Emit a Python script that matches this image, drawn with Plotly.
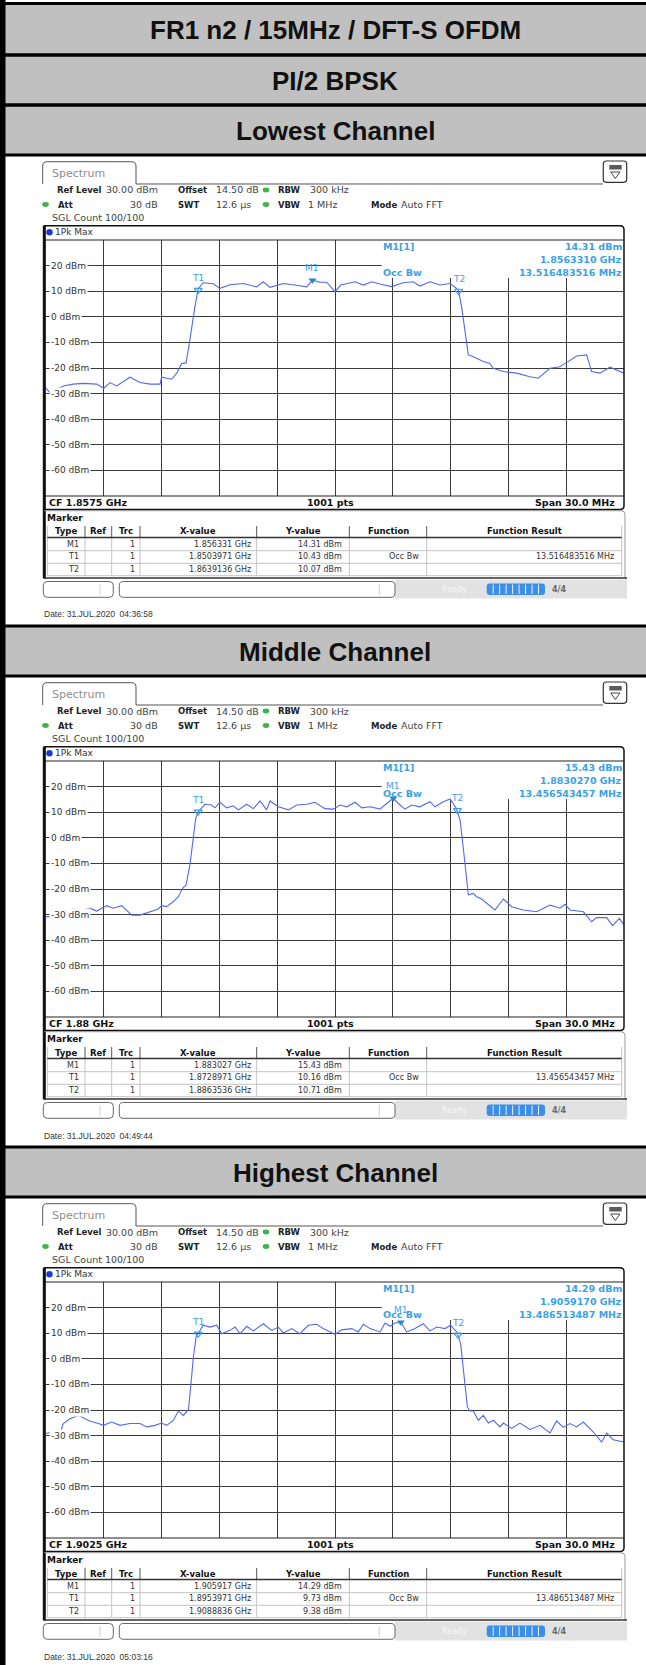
import plotly.graph_objects as go

W, H = 646, 1665
DY = 521  # vertical pixel offset between the three analyser screens

# ---------------- data ----------------
header_titles = ["FR1 n2 / 15MHz / DFT-S OFDM", "PI/2 BPSK"]
channel_titles = ["Lowest Channel", "Middle Channel", "Highest Channel"]
center_freq_ghz = ["1.8575", "1.88", "1.9025"]
span_mhz = 30.0
level_ticks = [20, 10, 0, -10, -20, -30, -40, -50, -60]
level_range = [-70, 30]
dates = ["31.JUL.2020  04:36:58", "31.JUL.2020  04:49:44", "31.JUL.2020  05:03:16"]

# trace points: frequency offset from start of span (MHz), level (dBm)
low_freq = [0, 0.2, 0.9, 1.42, 1.94, 2.63, 3.0, 3.32, 3.67, 4.36, 4.88, 5.4, 5.92, 6.0, 6.52, 6.78, 7.04, 7.27,
            7.44, 7.61, 7.73, 7.9, 8.16, 8.68, 9.03, 9.55, 10.24, 10.93, 11.28, 11.62, 12.32, 13.0, 13.53, 13.83,
            14.22, 14.57, 15.0, 15.3, 16.04, 16.47, 16.9, 17.33, 17.94, 18.54, 19.06, 19.41, 19.93, 20.45, 20.97,
            21.4, 21.57, 21.74, 21.92, 22.09, 22.35, 22.7, 23.04, 23.21, 23.73, 24.43, 25.12, 25.55, 26.16, 26.67,
            27.1, 27.54, 28.06, 28.32, 28.75, 29.27, 30.0]
low_level = [-27.9, -29.6, -27.0, -26.3, -26.0, -26.3, -27.9, -25.7, -27.0, -23.6, -25.7, -26.3, -26.3, -23.6,
             -24.4, -22.1, -18.2, -18.0, -10.4, -1.3, 4.0, 11.0, 13.3, 12.9, 11.1, 12.5, 13.0, 11.7, 13.7, 11.5,
             13.0, 12.3, 11.7, 14.31, 13.5, 13.5, 9.8, 12.4, 13.7, 12.4, 13.7, 12.8, 11.8, 13.3, 13.7, 12.0, 13.7,
             12.4, 13.0, 10.5, 4.0, -5.2, -14.9, -15.3, -16.2, -17.5, -18.2, -20.1, -21.4, -22.0, -23.4, -24.0,
             -20.1, -19.5, -17.5, -15.3, -14.9, -21.4, -22.0, -19.7, -22.0]

mid_freq = [0, 0.55, 0.9, 1.16, 1.42, 1.76, 2.28, 2.63, 3.15, 3.49, 3.93, 4.19, 4.45, 4.88, 5.4, 5.83, 6.0, 6.26,
            6.61, 6.87, 7.09, 7.27, 7.47, 7.65, 7.77, 7.9, 8.25, 8.6, 8.77, 9.03, 9.38, 9.72, 9.98, 10.42, 10.76,
            11.11, 11.45, 11.63, 12.06, 12.58, 13.01, 13.53, 13.96, 14.48, 14.91, 15.26, 15.61, 16.04, 16.39,
            16.82, 17.34, 17.68, 18.03, 18.29, 18.63, 18.98, 19.41, 19.93, 20.19, 20.62, 20.97, 21.28, 21.49,
            21.66, 21.84, 21.92, 22.18, 22.35, 22.61, 22.87, 23.3, 23.74, 24.17, 24.77, 25.47, 26.16, 26.68,
            26.94, 27.2, 27.89, 28.32, 28.58, 29.1, 29.41, 29.76, 30.0]
mid_level = [-30.8, -31.0, -28.9, -30.4, -27.8, -28.6, -27.5, -28.6, -26.5, -27.5, -26.5, -28.2, -30.2, -30.2,
             -28.9, -27.8, -26.5, -26.9, -24.9, -23.0, -19.7, -18.4, -10.6, -0.2, 7.6, 10.16, 13.1, 12.8, 11.7,
             13.9, 11.7, 12.5, 10.9, 13.1, 11.4, 14.4, 10.9, 14.4, 12.1, 10.9, 12.8, 13.1, 13.9, 11.4, 11.2, 12.8,
             12.1, 13.9, 11.7, 12.1, 11.2, 13.4, 15.43, 13.4, 11.2, 12.8, 12.1, 14.1, 12.1, 14.1, 15.2, 11.7, 7.0,
             -4.1, -17.1, -22.3, -21.7, -23.0, -23.9, -25.6, -28.2, -23.9, -26.9, -28.2, -28.9, -26.3, -27.5,
             -26.0, -28.2, -28.9, -32.8, -31.2, -31.2, -34.3, -31.5, -34.0]

high_freq = [0, 0.47, 0.73, 0.9, 1.25, 1.68, 2.02, 2.28, 2.72, 2.98, 3.41, 3.84, 4.36, 4.88, 5.23, 5.66, 6.0,
             6.26, 6.61, 6.87, 7.13, 7.39, 7.51, 7.65, 7.79, 7.9, 8.16, 8.51, 8.86, 9.12, 9.55, 9.81, 10.07, 10.42,
             10.76, 11.28, 11.71, 12.06, 12.32, 12.75, 13.18, 13.61, 14.05, 14.39, 15.0, 15.35, 15.87, 16.21,
             16.47, 16.82, 17.34, 17.6, 17.86, 18.11, 18.42, 18.72, 19.15, 19.58, 19.93, 20.28, 20.71, 21.0,
             21.32, 21.52, 21.66, 21.87, 22.0, 22.18, 22.44, 22.7, 22.96, 23.22, 23.56, 23.74, 24.17, 24.6,
             25.12, 25.64, 26.16, 26.5, 26.85, 27.2, 27.54, 27.89, 28.41, 28.84, 29.1, 29.44, 30.0]
high_level = [-29.2, -28.2, -29.0, -25.3, -23.4, -22.1, -23.4, -24.3, -25.3, -26.0, -24.7, -26.0, -25.3, -25.3,
              -26.6, -26.0, -25.1, -26.0, -24.1, -20.4, -22.1, -19.9, -11.0, 0.7, 8.5, 9.73, 13.1, 12.4, 13.1,
              9.8, 11.1, 12.4, 9.8, 12.7, 10.9, 13.7, 11.1, 12.4, 10.1, 11.8, 9.8, 13.1, 13.5, 11.8, 9.5, 11.3,
              11.8, 10.5, 13.5, 11.8, 10.5, 14.0, 12.7, 14.0, 14.29, 10.5, 11.8, 13.7, 10.9, 12.4, 11.8, 13.1,
              10.5, 5.9, -4.5, -18.8, -20.4, -20.4, -24.0, -22.1, -25.1, -24.0, -26.6, -25.1, -27.2, -25.1,
              -27.6, -26.0, -29.0, -24.3, -26.8, -25.3, -26.6, -24.7, -28.6, -32.5, -29.0, -31.6, -32.5]

trace_freqs = [low_freq, mid_freq, high_freq]
trace_levels = [low_level, mid_level, high_level]

# markers
m1_x_ghz = ["1.856331", "1.883027", "1.905917"]
m1_y_dbm = [14.31, 15.43, 14.29]
t1_x_ghz = ["1.8503971", "1.8728971", "1.8953971"]
t1_y_dbm = [10.43, 10.16, 9.73]
t2_x_ghz = ["1.8639136", "1.8863536", "1.9088836"]
t2_y_dbm = [10.07, 10.71, 9.38]
m1_readout_ghz = ["1.8563310", "1.8830270", "1.9059170"]
occ_bw_mhz = ["13.516483516", "13.456543457", "13.486513487"]

# ---------------- styling ----------------
UI = "DejaVu Sans"
HDR = "Liberation Sans"
GRID = "#3a3a3a"
TRACE = "#5468f0"
MCOL = "#3aa2e4"
GREEN = "#3fb24a"

shapes, annos = [], []


def X(px):
    return px / W


def Y(py):
    return 1 - py / H


def P(x, y):
    return f"{X(x):.5f},{Y(y):.5f}"


def add_rect(x0, y0, x1, y1, fill=None, lc=None, lw=0, layer="above"):
    shapes.append(dict(type="rect", xref="paper", yref="paper", x0=X(x0), x1=X(x1), y0=Y(y1), y1=Y(y0),
                       fillcolor=fill or "rgba(0,0,0,0)",
                       line=dict(color=lc or "rgba(0,0,0,0)", width=lw), layer=layer))


def add_line(x0, y0, x1, y1, color, width=1, layer="above"):
    shapes.append(dict(type="line", xref="paper", yref="paper", x0=X(x0), y0=Y(y0), x1=X(x1), y1=Y(y1),
                       line=dict(color=color, width=width), layer=layer))


def add_path(d, fill=None, lc=None, lw=1, layer="above"):
    shapes.append(dict(type="path", xref="paper", yref="paper", path=d, fillcolor=fill or "rgba(0,0,0,0)",
                       line=dict(color=lc or "rgba(0,0,0,0)", width=lw), layer=layer))


def rrect(x0, y0, x1, y1, r):
    return (f"M {P(x0 + r, y0)} L {P(x1 - r, y0)} Q {P(x1, y0)} {P(x1, y0 + r)} L {P(x1, y1 - r)} "
            f"Q {P(x1, y1)} {P(x1 - r, y1)} L {P(x0 + r, y1)} Q {P(x0, y1)} {P(x0, y1 - r)} "
            f"L {P(x0, y0 + r)} Q {P(x0, y0)} {P(x0 + r, y0)} Z")


def add_circle(cx, cy, rx, ry, fill):
    shapes.append(dict(type="circle", xref="paper", yref="paper", x0=X(cx - rx), x1=X(cx + rx),
                       y0=Y(cy + ry), y1=Y(cy - ry), fillcolor=fill, line=dict(width=0)))


def add_text(x, y, s, size=9, color="#1a1a1a", family=UI, weight="normal", anchor="left", bg=None, pad=0):
    a = dict(xref="paper", yref="paper", x=X(x), y=Y(y), text=s, showarrow=False, xanchor=anchor,
             yanchor="middle", font=dict(family=family, size=size, color=color, weight=weight), borderpad=pad)
    if bg:
        a["bgcolor"] = bg
    annos.append(a)


# ---------------- header rows ----------------
rows = [(3.5, 55, header_titles[0]), (55, 105, header_titles[1])]
rows += [(105 + k * DY, 155 + k * DY, channel_titles[k]) for k in range(3)]
for (y0, y1, t) in rows:
    add_rect(5, y0, W, y1, fill="#c0c0c0", layer="below")
    add_text(335, (y0 + y1) / 2 + 1, t, size=26, color="#111", family=HDR, weight="bold", anchor="center")
for (y0, y1, t) in rows:
    add_line(0, y0, W, y0, "#000", 3)
    add_line(0, y1, W, y1, "#000", 3)
add_rect(0, 0, 5.5, H, fill="#000", layer="above")

fig = go.Figure()
layout_axes = {}

LB, LV = 8.5, 9.5  # bold label / value sizes of the analyser status lines

for k in range(3):
    oy = k * DY
    sfx = "" if k == 0 else str(k + 1)
    cf = float(center_freq_ghz[k]) * 1000.0
    start = cf - span_mhz / 2

    # ---- Spectrum tab ----
    add_path(f"M {P(42.7, 184 + oy)} L {P(42.7, 166 + oy)} Q {P(42.7, 161.7 + oy)} {P(47, 161.7 + oy)} "
             f"L {P(131.5, 161.7 + oy)} Q {P(136, 161.7 + oy)} {P(136, 166 + oy)} L {P(136, 184 + oy)} "
             f"L {P(603, 184 + oy)}", lc="#555", lw=1)
    add_text(50.5, 173.3 + oy, "Spectrum", size=11, color="#8e8e8e")
    # icon at top right
    add_path(rrect(603.3, 161 + oy, 626.7, 182.3 + oy, 3), fill="#fff", lc="#333", lw=1.2)
    add_rect(609.3, 165 + oy, 621.7, 169.5 + oy, fill="#5a5a5a")
    add_path(f"M {P(610.7, 172 + oy)} L {P(620, 172 + oy)} L {P(615.3, 178.5 + oy)} Z", lc="#444", lw=1)

    # ---- info lines ----
    y1 = 190 + oy
    add_text(56, y1, "Ref Level", LB, "#222", weight="bold")
    add_text(159.3, y1, "30.00 dBm", LV, "#444", anchor="right")
    add_text(176.7, y1, "Offset", LB, "#222", weight="bold")
    add_text(215, y1, "14.50 dB", LV, "#444")
    add_circle(266, y1, 3.3, 2.4, GREEN)
    add_text(276.7, y1, "RBW", LB, "#222", weight="bold")
    add_text(309.3, y1, "300 kHz", LV, "#444")
    y2 = 204.5 + oy
    add_circle(45.5, y2, 3.3, 2.4, GREEN)
    add_text(57.3, y2, "Att", LB, "#222", weight="bold")
    add_text(159.3, y2, "30 dB", LV, "#444", anchor="right")
    add_text(176.7, y2, "SWT", LB, "#222", weight="bold")
    add_text(215, y2, "12.6 µs", LV, "#444")
    add_circle(266, y2, 3.3, 2.4, GREEN)
    add_text(276.7, y2, "VBW", LB, "#222", weight="bold")
    add_text(338, y2, "1 MHz", LV, "#444", anchor="right")
    add_text(370, y2, "Mode", LB, "#222", weight="bold")
    add_text(399.5, y2, "Auto FFT", LV, "#444")
    add_text(50.7, 217.7 + oy, "SGL Count 100/100", LV, "#444")

    # ---- trace window frame ----
    add_path(f"M {P(44.5, 509.5 + oy)} L {P(44.5, 225.7 + oy)} L {P(620, 225.7 + oy)} "
             f"Q {P(624, 225.7 + oy)} {P(624, 229.7 + oy)} L {P(624, 505.5 + oy)} "
             f"Q {P(624, 509.5 + oy)} {P(620, 509.5 + oy)} L {P(44.5, 509.5 + oy)}", lc="#111", lw=1.5)
    add_line(45, 240 + oy, 624, 240 + oy, "#222", 1)
    add_line(45, 496 + oy, 624, 496 + oy, "#222", 1.2)
    add_line(44.3, 225.7 + oy, 44.3, 578.5 + oy, "#111", 3)
    add_circle(49.5, 232.3 + oy, 3.2, 3.2, "#1a3ad8")
    add_text(53.5, 232.3 + oy, "1Pk Max", 9, "#333")

    # CF bar
    add_text(48, 502.7 + oy, f"CF {center_freq_ghz[k]} GHz", 9.5, "#111", weight="bold")
    add_text(330.8, 502.7 + oy, "1001 pts", 9.5, "#111", weight="bold", anchor="center")
    add_text(616, 502.7 + oy, f"Span {span_mhz:.1f} MHz", 9.5, "#111", weight="bold", anchor="right")

    # ---- marker readout ----
    add_text(381.7, 246 + oy, "M1[1]", 9.5, MCOL, weight="bold")
    add_text(622.7, 246 + oy, f"{m1_y_dbm[k]:.2f} dBm", 9.5, MCOL, weight="bold", anchor="right")
    add_text(622.7, 259.3 + oy, f"{m1_readout_ghz[k]} GHz", 9.5, MCOL, weight="bold", anchor="right")
    add_text(381.7, 272.3 + oy, "Occ Bw", 9.5, MCOL, weight="bold")
    add_text(622.7, 272.3 + oy, f"{occ_bw_mhz[k]} MHz", 9.5, MCOL, weight="bold", anchor="right")

    # ---- marker table panel ----
    add_path(f"M {P(44.3, 510.7 + oy)} L {P(621, 510.7 + oy)} Q {P(625, 510.7 + oy)} {P(625, 514.7 + oy)} "
             f"L {P(625, 578 + oy)}", lc="#9a9a9a", lw=1)
    add_line(44, 578 + oy, 627, 578 + oy, "#333", 1.5)
    add_text(45.5, 518.3 + oy, "Marker", 9, "#111", weight="bold")
    cols = [47.3, 85, 111.7, 140, 256.7, 349.3, 426.7, 621.7]
    for cx in cols[1:-1]:
        add_line(cx, 526 + oy, cx, 537.3 + oy, "#555", 1)
        add_line(cx, 537.3 + oy, cx, 575.7 + oy, "#c4c4c4", 1)
    add_line(cols[0], 526 + oy, cols[0], 575.7 + oy, "#c4c4c4", 1)
    add_line(cols[-1], 526 + oy, cols[-1], 575.7 + oy, "#c4c4c4", 1)
    add_line(cols[0], 537.5 + oy, cols[-1], 537.5 + oy, "#333", 1.6)
    for ry in (550.7, 563.3, 575.7):
        add_line(cols[0], ry + oy, cols[-1], ry + oy, "#c4c4c4", 1)
    heads = ["Type", "Ref", "Trc", "X-value", "Y-value", "Function", "Function Result"]
    for i, h in enumerate(heads):
        add_text((cols[i] + cols[i + 1]) / 2, 531.5 + oy, h, 8.5, "#111", weight="bold", anchor="center")
    table_rows = [
        ("M1", "1", f"{m1_x_ghz[k]} GHz", f"{m1_y_dbm[k]:.2f} dBm", "", ""),
        ("T1", "1", f"{t1_x_ghz[k]} GHz", f"{t1_y_dbm[k]:.2f} dBm", "Occ Bw", f"{occ_bw_mhz[k]} MHz"),
        ("T2", "1", f"{t2_x_ghz[k]} GHz", f"{t2_y_dbm[k]:.2f} dBm", "", ""),
    ]
    rights = [80, None, 136, 251.7, 343.3, 420, 615]
    for ri, row in enumerate(table_rows):
        ty = 544.3 + ri * 12.5 + oy
        vals = [row[0], "", row[1], row[2], row[3], row[4], row[5]]
        for ci, v in enumerate(vals):
            if v:
                add_text(rights[ci], ty, v, 8, "#333", anchor="right")

    # ---- status bar ----
    add_rect(395, 579.5 + oy, 627, 598.5 + oy, fill="#e2e2e2")
    add_path(rrect(43.3, 581.5 + oy, 113.3, 597.3 + oy, 4), fill="#fff", lc="#666", lw=1)
    add_line(100, 584 + oy, 100, 595 + oy, "#d0d0d0", 1)
    add_path(rrect(119.3, 581.5 + oy, 395, 597.3 + oy, 4), fill="#fff", lc="#666", lw=1)
    add_line(379.3, 584 + oy, 379.3, 595 + oy, "#d0d0d0", 1)
    add_text(441, 589.3 + oy, "Ready", 8, "#f7f7f7")
    add_path(rrect(486.7, 583.5 + oy, 545, 595 + oy, 3), fill="#3b8fea")
    for j in range(1, 9):
        sx = 486.7 + j * (545 - 486.7) / 9
        add_line(sx, 584.5 + oy, sx, 594 + oy, "#e8f2ff", 1)
    add_text(551, 589.3 + oy, "4/4", 8, "#6a6a6a", weight="bold")

    # date
    add_text(42.7, 614.5 + oy, f"Date: {dates[k]}", 8.5, "#333", family=HDR)

    # ---- axes for the trace ----
    layout_axes[f"xaxis{sfx}"] = dict(domain=[X(46), X(624)], range=[0, span_mhz], showgrid=True,
                                      gridcolor=GRID, gridwidth=1, dtick=3, tick0=0, showticklabels=False,
                                      zeroline=False, showline=False, ticks="", anchor=f"y{sfx}",
                                      fixedrange=True)
    layout_axes[f"yaxis{sfx}"] = dict(domain=[Y(496 + oy), Y(240 + oy)], range=level_range, showgrid=True,
                                      gridcolor=GRID, gridwidth=1, dtick=10, tick0=0, showticklabels=False,
                                      zeroline=False, showline=False, ticks="", anchor=f"x{sfx}",
                                      fixedrange=True)

    # white readout box over grid, under trace
    bx0 = (381.7 - 46) / 578 * span_mhz
    by0 = level_range[1] - (278 - 240) / 256 * (level_range[1] - level_range[0])
    shapes.append(dict(type="rect", xref=f"x{sfx}", yref=f"y{sfx}", x0=bx0, x1=span_mhz + 0.2, y0=by0,
                       y1=level_range[1] + 0.5, fillcolor="#fff", line=dict(width=0), layer="between"))

    # level labels
    for v in level_ticks:
        annos.append(dict(xref="paper", yref=f"y{sfx}", x=X(48.5), y=v, text=f"{v} dBm", showarrow=False,
                          xanchor="left", yanchor="middle", bgcolor="#fff", borderpad=1,
                          font=dict(family=UI, size=9, color="#333")))

    # trace
    fig.add_trace(go.Scatter(x=trace_freqs[k], y=trace_levels[k], mode="lines",
                             line=dict(color=TRACE, width=1.1), xaxis=f"x{sfx}", yaxis=f"y{sfx}",
                             hoverinfo="skip", showlegend=False))

    # markers
    mx = [float(t1_x_ghz[k]) * 1000 - start, float(t2_x_ghz[k]) * 1000 - start]
    my = [t1_y_dbm[k], t2_y_dbm[k]]
    fig.add_trace(go.Scatter(x=mx, y=my, mode="markers", xaxis=f"x{sfx}", yaxis=f"y{sfx}",
                             marker=dict(symbol="triangle-down-open", size=7, color=MCOL, line=dict(width=1.2)),
                             hoverinfo="skip", showlegend=False, cliponaxis=False))
    m1x = float(m1_x_ghz[k]) * 1000 - start
    fig.add_trace(go.Scatter(x=[m1x], y=[m1_y_dbm[k]], mode="markers", xaxis=f"x{sfx}", yaxis=f"y{sfx}",
                             marker=dict(symbol="triangle-down", size=7, color="#2a86d6"),
                             hoverinfo="skip", showlegend=False, cliponaxis=False))
    for lab, lx, ly in [("T1", mx[0], my[0]), ("T2", mx[1], my[1]), ("M1", m1x, m1_y_dbm[k])]:
        annos.append(dict(xref=f"x{sfx}", yref=f"y{sfx}", x=lx, y=ly, text=lab, showarrow=False,
                          xanchor="center", yanchor="middle", yshift=12,
                          font=dict(family=UI, size=9, color=MCOL)))

fig.update_layout(width=W, height=H, margin=dict(l=0, r=0, t=0, b=0), paper_bgcolor="#fff",
                  plot_bgcolor="#fff", showlegend=False, shapes=shapes, annotations=annos, **layout_axes)
fig.write_html("out.html", config={"displayModeBar": False, "staticPlot": True},
               post_script="document.body.style.margin='0px';document.body.style.overflow='hidden';")
